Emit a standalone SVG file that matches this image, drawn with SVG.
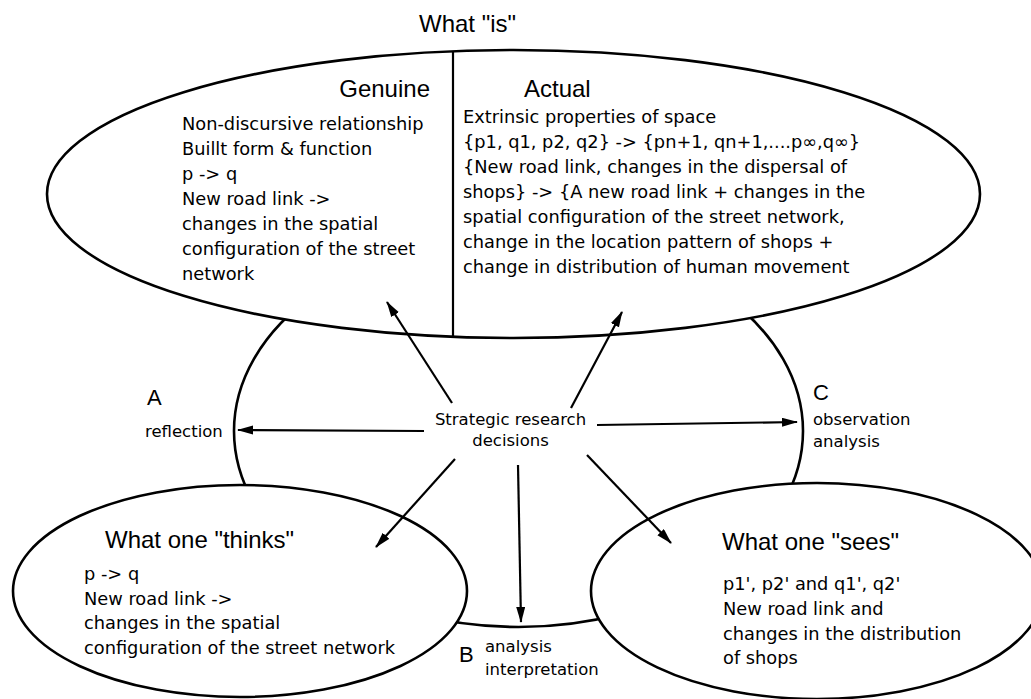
<svg xmlns="http://www.w3.org/2000/svg" width="1031" height="699" viewBox="0 0 1031 699">
<defs>
<style>
.shape{fill:#fff;stroke:#000;stroke-width:2.6}
.ln{stroke:#000;stroke-width:2.2;fill:none}
.arr{stroke:#000;stroke-width:2.2;fill:none;marker-end:url(#ah)}
.title{font-family:"Liberation Sans",Arial,sans-serif;font-size:24px;fill:#000}
.body{font-family:"DejaVu Sans","Noto Sans",sans-serif;font-size:17.8px;fill:#000}
.lbl{font-family:"DejaVu Sans","Noto Sans",sans-serif;font-size:16.5px;fill:#000}
.let{font-family:"Liberation Sans",Arial,sans-serif;font-size:22px;fill:#000}
</style>
<marker id="ah" markerUnits="userSpaceOnUse" markerWidth="18" markerHeight="10" refX="15" refY="4.5" orient="auto">
<polygon points="0,0 16,4.5 0,9" fill="#000"/>
</marker>
</defs>
<rect width="1031" height="699" fill="#fff"/>

<g id="central">
<ellipse class="shape" cx="518.5" cy="431" rx="284.5" ry="196"/>
</g>

<g id="what-is">
<ellipse class="shape" cx="513.5" cy="194" rx="466.5" ry="144"/>
<line class="ln" x1="453" y1="51" x2="453" y2="337"/>
<text class="title" x="419" y="32">What "is"</text>
<text class="title" x="430" y="97" text-anchor="end">Genuine</text>
<text class="title" x="524" y="97">Actual</text>
<text class="body" x="182" y="130">Non-discursive relationship</text>
<text class="body" x="182" y="155">Buillt form &amp; function</text>
<text class="body" x="182" y="180">p -&gt; q</text>
<text class="body" x="182" y="205">New road link -&gt;</text>
<text class="body" x="182" y="230">changes in the spatial</text>
<text class="body" x="182" y="255">configuration of the street</text>
<text class="body" x="182" y="280">network</text>
<text class="body" x="463" y="123">Extrinsic properties of space</text>
<text class="body" x="463" y="148">{p1, q1, p2, q2} -&gt; {pn+1, qn+1,....p∞,q∞}</text>
<text class="body" x="463" y="173">{New road link, changes in the dispersal of</text>
<text class="body" x="463" y="198">shops} -&gt; {A new road link + changes in the</text>
<text class="body" x="463" y="223">spatial configuration of the street network,</text>
<text class="body" x="463" y="248">change in the location pattern of shops +</text>
<text class="body" x="463" y="273">change in distribution of human movement</text>
</g>

<g id="thinks">
<ellipse class="shape" cx="240" cy="591" rx="227" ry="106"/>
<text class="title" x="105" y="548">What one "thinks"</text>
<text class="body" x="84" y="580">p -&gt; q</text>
<text class="body" x="84" y="604.5">New road link -&gt;</text>
<text class="body" x="84" y="629">changes in the spatial</text>
<text class="body" x="84" y="653.5">configuration of the street network</text>
</g>

<g id="sees">
<ellipse class="shape" cx="817" cy="591" rx="226" ry="108"/>
<text class="title" x="722" y="550">What one "sees"</text>
<text class="body" x="723" y="590">p1', p2' and q1', q2'</text>
<text class="body" x="723" y="615">New road link and</text>
<text class="body" x="723" y="640">changes in the distribution</text>
<text class="body" x="723" y="664">of shops</text>
</g>

<g id="strategic">
<text class="lbl" x="510.5" y="425" text-anchor="middle" font-size="16px">Strategic research</text>
<text class="lbl" x="510.5" y="446" text-anchor="middle" font-size="16px">decisions</text>
</g>

<g id="label-a">
<text class="let" x="147" y="405">A</text>
<text class="lbl" x="145" y="437">reflection</text>
</g>
<g id="label-b">
<text class="let" x="459" y="662">B</text>
<text class="lbl" x="485" y="652">analysis</text>
<text class="lbl" x="485" y="675">interpretation</text>
</g>
<g id="label-c">
<text class="let" x="813" y="400">C</text>
<text class="lbl" x="813" y="425">observation</text>
<text class="lbl" x="813" y="447">analysis</text>
</g>

<g id="connectors">
<line class="arr" x1="452" y1="403" x2="387" y2="302"/>
<line class="arr" x1="571" y1="408" x2="622" y2="312"/>
<line class="arr" x1="424" y1="431" x2="238" y2="430"/>
<line class="arr" x1="597" y1="425" x2="797" y2="422"/>
<line class="arr" x1="455" y1="459" x2="376" y2="547"/>
<line class="arr" x1="518" y1="465" x2="521" y2="622"/>
<line class="arr" x1="587" y1="455" x2="671" y2="543"/>
</g>
</svg>
